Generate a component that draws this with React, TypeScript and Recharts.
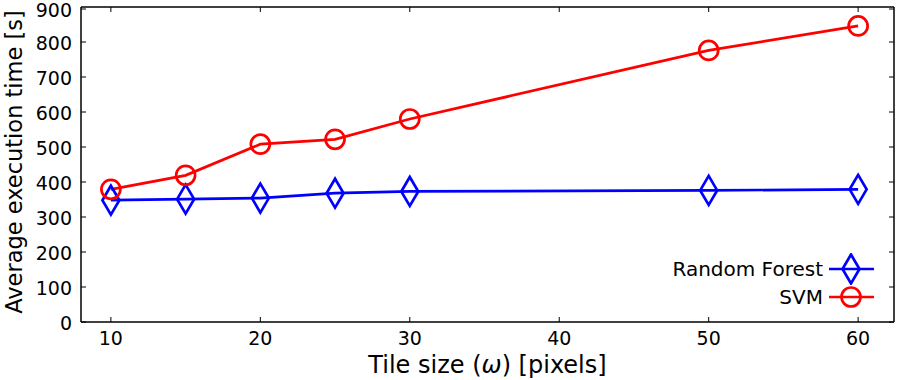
import React from "react";
import { LineChart, Line, XAxis, YAxis, ReferenceLine } from "recharts";

const tileSizes = [10, 15, 20, 25, 30, 50, 60];
const randomForest = [348, 351, 354, 368, 373, 376, 379];
const svm = [379, 419, 508, 522, 580, 776, 846];
const xTicks = [10, 20, 30, 40, 50, 60];
const yTicks = [0, 100, 200, 300, 400, 500, 600, 700, 800, 900];

const data = tileSizes.map((t, i) => ({
  tile: t,
  rf: randomForest[i],
  svm: svm[i],
}));

const FONT = "DejaVu Sans, sans-serif";
const BLUE = "#0000ff";
const RED = "#ff0000";

// plot box, from the chart margins below
const PLOT_TOP = 7;
const PLOT_BOTTOM = 322;
const PLOT_LEFT = 81;
const PLOT_RIGHT = 894;
const TICK_LEN = 5;
const X_MAX = 62.4;

function Diamond({ cx, cy, color }: { cx: number; cy: number; color: string }) {
  return (
    <path
      d={`M${cx},${cy - 14.5} L${cx + 8.5},${cy} L${cx},${cy + 14.5} L${cx - 8.5},${cy} Z`}
      fill="none"
      stroke={color}
      strokeWidth={2.7}
    />
  );
}

function Circle({ cx, cy, color }: { cx: number; cy: number; color: string }) {
  return <circle cx={cx} cy={cy} r={9.5} fill="none" stroke={color} strokeWidth={2.7} />;
}

// x tick: label below, inward tick marks at bottom and top
const XTick = (props: any) => {
  const { x, payload } = props;
  return (
    <g>
      <line x1={x} y1={PLOT_BOTTOM} x2={x} y2={PLOT_BOTTOM - TICK_LEN} stroke="#000" />
      <line x1={x} y1={PLOT_TOP} x2={x} y2={PLOT_TOP + TICK_LEN} stroke="#000" />
      <text x={x} y={345} textAnchor="middle" fontFamily={FONT} fontSize={19} fill="#000">
        {payload.value}
      </text>
    </g>
  );
};

// y tick: label left, inward tick marks at left and right
const YTick = (props: any) => {
  const { y, payload } = props;
  return (
    <g>
      <line x1={PLOT_LEFT} y1={y} x2={PLOT_LEFT + TICK_LEN} y2={y} stroke="#000" />
      <line x1={PLOT_RIGHT} y1={y} x2={PLOT_RIGHT - TICK_LEN} y2={y} stroke="#000" />
      <text x={72} y={y + 7.5} textAnchor="end" fontFamily={FONT} fontSize={19} fill="#000">
        {payload.value}
      </text>
    </g>
  );
};

const renderXLabel = (props: any) => {
  const vb = props.viewBox || {};
  const x = vb.x + vb.width / 2;
  return (
    <text x={x} y={373} textAnchor="middle" fontFamily={FONT} fontSize={24} fill="#000">
      Tile size (<tspan fontStyle="italic">ω</tspan>) [pixels]
    </text>
  );
};

const renderYLabel = () => (
  <text
    x={22}
    y={162}
    transform="rotate(-90, 22, 162)"
    textAnchor="middle"
    fontFamily={FONT}
    fontSize={22.5}
    fill="#000"
  >
    Average execution time [s]
  </text>
);

function LegendRow({ label, color, marker }: { label: string; color: string; marker: "d" | "o" }) {
  return (
    <div style={{ display: "flex", alignItems: "center", justifyContent: "flex-end", height: 28 }}>
      <span style={{ fontFamily: FONT, fontSize: 20, color: "#000", marginRight: 5 }}>{label}</span>
      <svg width={48} height={32}>
        <line x1={1} y1={16} x2={46} y2={16} stroke={color} strokeWidth={2.7} />
        {marker === "d" ? <Diamond cx={23} cy={16} color={color} /> : <Circle cx={23} cy={16} color={color} />}
      </svg>
    </div>
  );
}

export default function App() {
  return (
    <div style={{ position: "absolute", left: 0, top: 0, width: 898, height: 380, background: "#fff" }}>
      <LineChart width={898} height={380} data={data} margin={{ top: PLOT_TOP, right: 898 - PLOT_RIGHT, bottom: 0, left: 0 }}>
        <XAxis
          xAxisId="x"
          dataKey="tile"
          type="number"
          domain={[8, X_MAX]}
          ticks={xTicks}
          allowDataOverflow
          height={380 - PLOT_BOTTOM}
          tickLine={false}
          axisLine={{ stroke: "#000", strokeWidth: 1.5 }}
          tick={<XTick />}
          label={renderXLabel}
        />
        <YAxis
          yAxisId="y"
          domain={[0, 900]}
          ticks={yTicks}
          width={PLOT_LEFT}
          tickLine={false}
          axisLine={{ stroke: "#000", strokeWidth: 1.5 }}
          tick={<YTick />}
          label={renderYLabel}
        />
        <ReferenceLine xAxisId="x" yAxisId="y" y={900} stroke="#000" strokeWidth={1.5} />
        <ReferenceLine xAxisId="x" yAxisId="y" x={X_MAX} stroke="#000" strokeWidth={1.5} />
        <Line
          xAxisId="x"
          yAxisId="y"
          dataKey="rf"
          stroke={BLUE}
          strokeWidth={2.7}
          type="linear"
          isAnimationActive={false}
          dot={(p: any) => <Diamond key={`d${p.index}`} cx={p.cx} cy={p.cy} color={BLUE} />}
        />
        <Line
          xAxisId="x"
          yAxisId="y"
          dataKey="svm"
          stroke={RED}
          strokeWidth={2.7}
          type="linear"
          isAnimationActive={false}
          dot={(p: any) => <Circle key={`c${p.index}`} cx={p.cx} cy={p.cy} color={RED} />}
        />
      </LineChart>
      <div style={{ position: "absolute", left: 580, top: 255, width: 296 }}>
        <LegendRow label="Random Forest" color={BLUE} marker="d" />
        <LegendRow label="SVM" color={RED} marker="o" />
      </div>
    </div>
  );
}
